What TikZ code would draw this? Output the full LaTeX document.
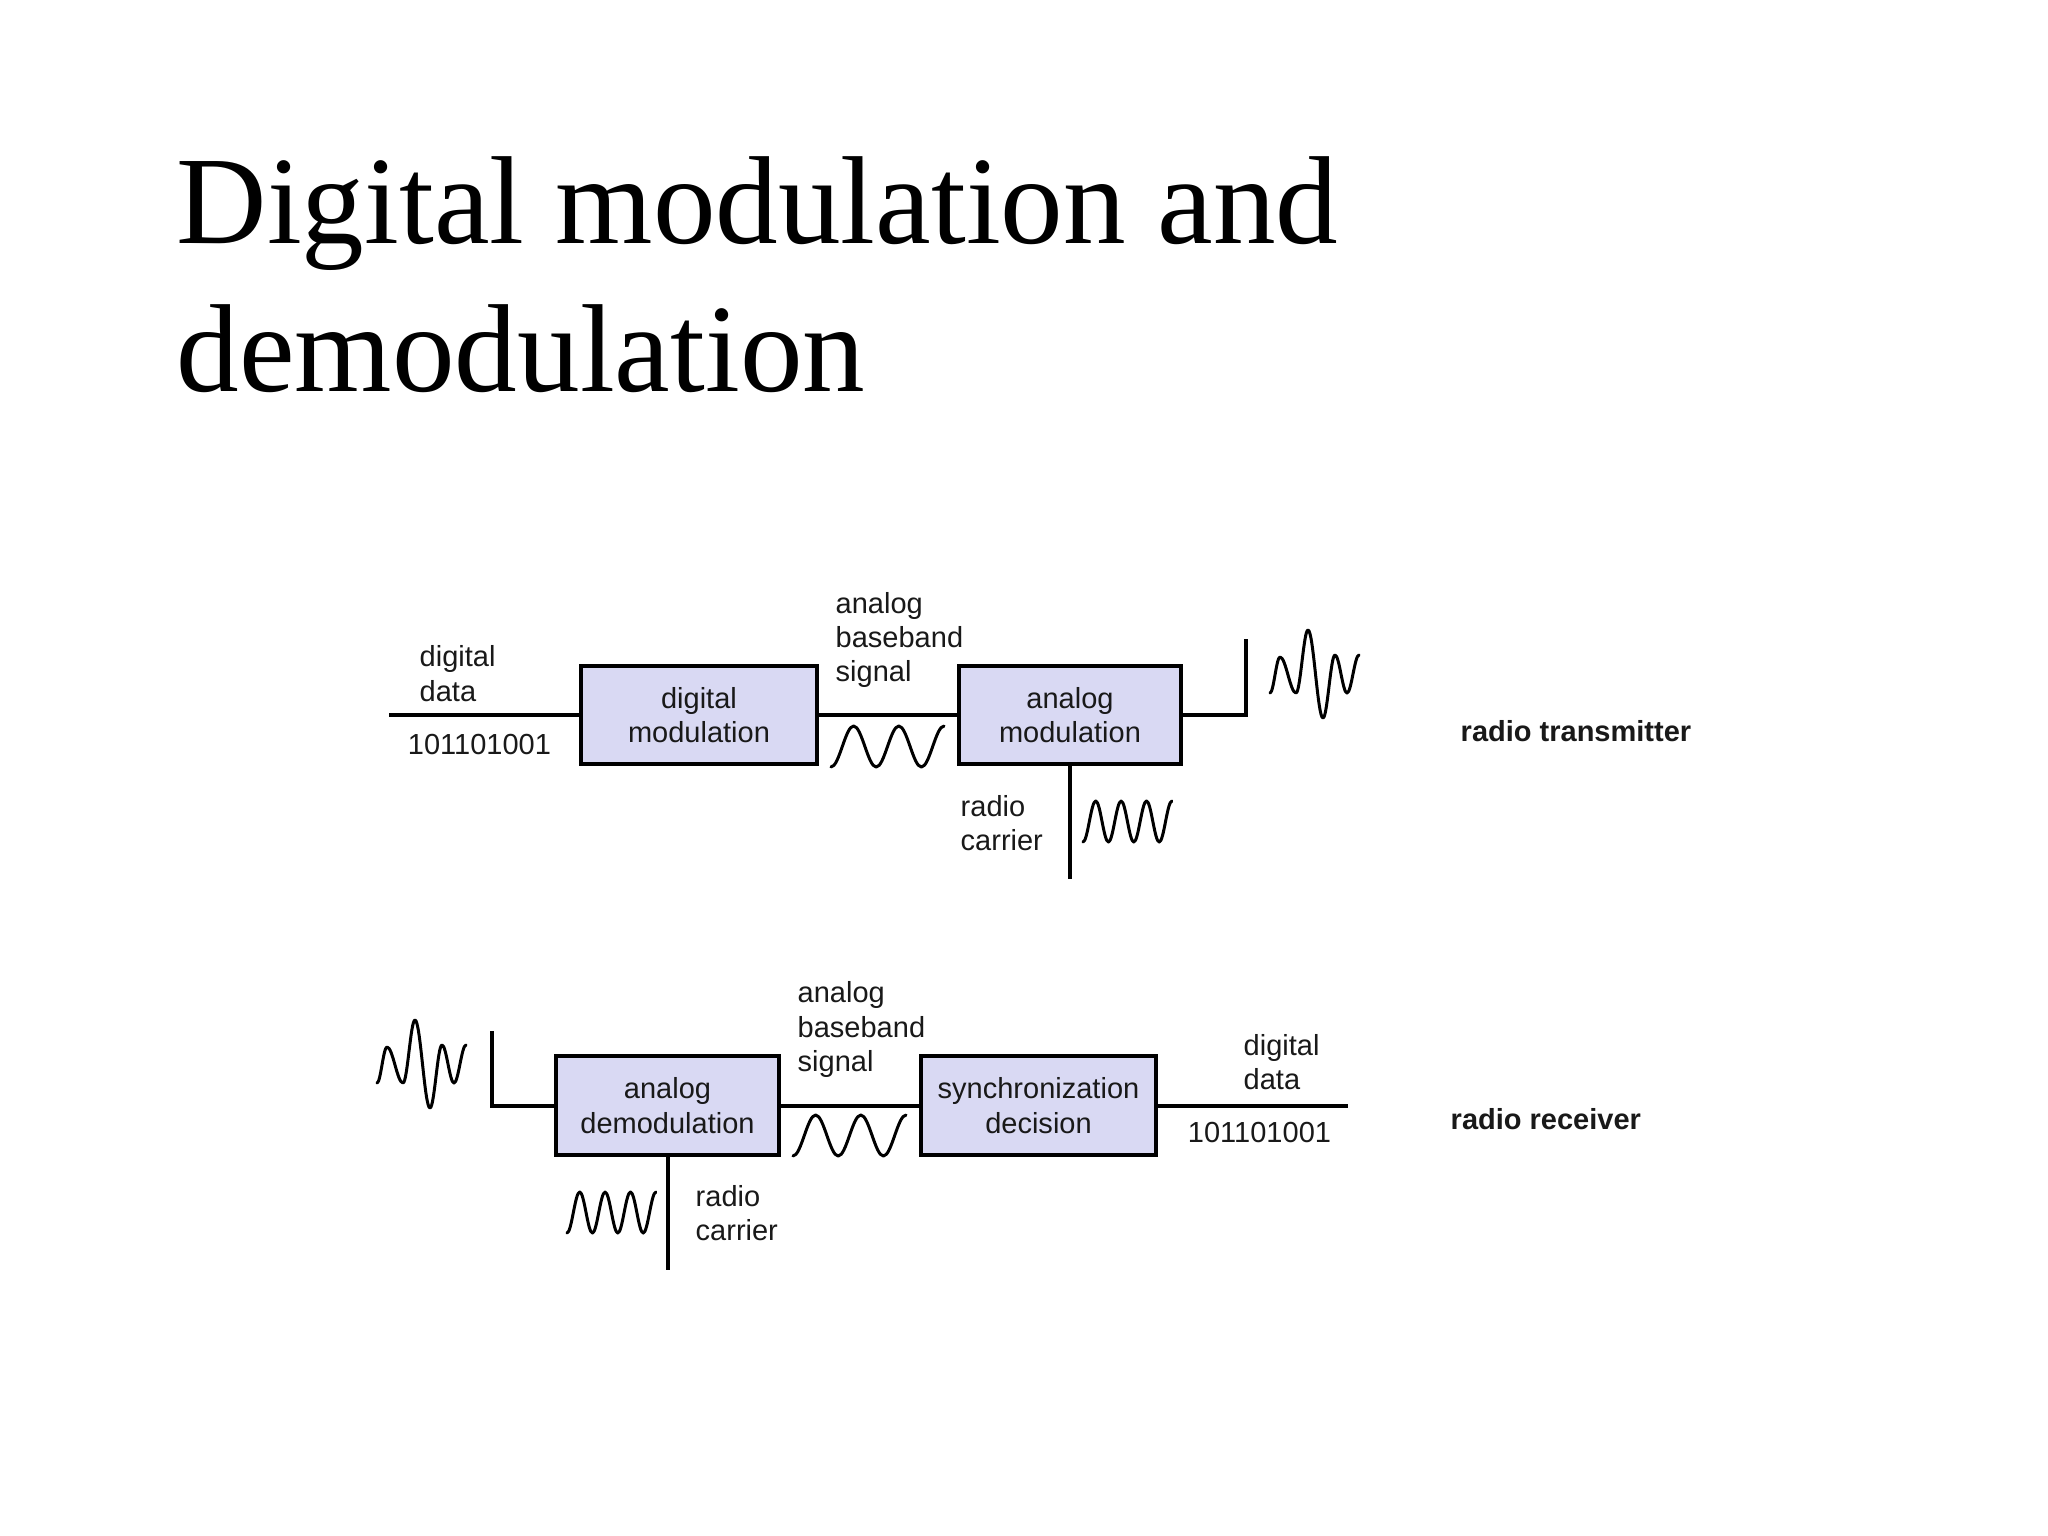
\documentclass[tikz,border=0pt]{standalone}
\usepackage{fontspec}
\setmainfont{Liberation Serif}
\setsansfont{Liberation Sans}
\definecolor{boxfill}{RGB}{217,217,243}
\definecolor{ink}{RGB}{25,25,25}
\newcommand{\lblfont}{\sffamily\fontsize{8.25}{9.8}\selectfont}
\tikzset{
  blockbox/.style={draw=black, line width=0.045cm, fill=boxfill, inner sep=0pt,
    align=center, font=\lblfont, text=ink},
  wire/.style={draw=black, line width=0.04cm},
  wave/.style={draw=black, line width=0.03cm, line cap=round, line join=round},
  lbl/.style={font=\lblfont, text=ink, align=left, inner sep=0pt},
  bold lbl/.style={font=\lblfont\bfseries, text=ink, inner sep=0pt},
  antwave/.pic={\draw[wave] (0,0) cos (5,-18) sin (10,-36) cos (18,-18) sin (26,0)
     cos (32,-31.5) sin (38,-63) cos (45.5,-19) sin (53,25) cos (59,-6.5) sin (65,-38)
     cos (71,-19) sin (77,0) cos (83,-19) sin (89,-38);},
  basewave/.pic={\draw[wave] (0,0) cos (11.3,-20.5) sin (22.6,-41) cos (33.9,-20.5) sin (45.2,0)
     cos (56.5,-20.5) sin (67.8,-41) cos (79.1,-20.5) sin (90.4,0)
     cos (101.7,-20.5) sin (113,-41);},
  carrwave/.pic={\draw[wave] (0,0) cos (6.35,-20.5) sin (12.7,-41) cos (19.05,-20.5) sin (25.4,0)
     cos (31.75,-20.5) sin (38.1,-41) cos (44.45,-20.5) sin (50.8,0)
     cos (57.15,-20.5) sin (63.5,-41) cos (69.85,-20.5) sin (76.2,0)
     cos (82.55,-20.5) sin (88.9,-41);}
}
\begin{document}
\begin{tikzpicture}[x=0.01cm, y=-0.01cm]
\useasboundingbox (0,0) rectangle (2048,1536);
\fill[white] (0,0) rectangle (2048,1536);

% title
\node[anchor=north west, align=left, inner sep=0pt, font=\fontsize{35.6}{42.2}\selectfont]
  (title) at (176,156) {Digital modulation and\\demodulation};

% ---------- transmitter ----------
\node[blockbox, minimum width=2.36cm, minimum height=0.98cm] (dmod) at (699,715) {digital\\modulation};
\node[blockbox, minimum width=2.22cm, minimum height=0.98cm] (amod) at (1070,715) {analog\\modulation};
\coordinate (txin) at (389,715);
\coordinate (txcorner) at (1246,715);
\coordinate (txant) at (1246,639);
\coordinate (txcarr) at (1070,879);
\draw[wire] (txin) -- (dmod.west);
\draw[wire] (dmod.east) -- (amod.west);
\draw[wire] (amod.east) -- (txcorner) -- (txant);
\draw[wire] (amod.south) -- (txcarr);

\node[lbl, anchor=west] (txdd) at (419,673.5) {digital\\data};
\node[lbl] (txbits) at (479.5,744) {101101001};
\node[lbl, anchor=west] (txbb) at (835,640) {analog\\baseband\\signal};
\node[lbl, anchor=west] (txrc) at (960,823) {radio\\carrier};
\node[bold lbl, anchor=west] (txname) at (1460,731) {radio transmitter};

\pic at (831,767) {basewave};
\pic at (1083,842) {carrwave};
\pic at (1270,693) {antwave};

% ---------- receiver ----------
\node[blockbox, minimum width=2.23cm, minimum height=0.99cm] (ademod) at (667.5,1105.5) {analog\\demodulation};
\node[blockbox, minimum width=2.35cm, minimum height=0.99cm] (sync) at (1038.5,1105.5) {synchronization\\decision};
\coordinate (rxant) at (492,1031);
\coordinate (rxcorner) at (492,1105.5);
\coordinate (rxout) at (1348,1105.5);
\coordinate (rxcarr) at (667.5,1270);
\draw[wire] (rxant) -- (rxcorner) -- (ademod.west);
\draw[wire] (ademod.east) -- (sync.west);
\draw[wire] (sync.east) -- (rxout);
\draw[wire] (ademod.south) -- (rxcarr);

\node[lbl, anchor=west] (rxbb) at (797,1029.5) {analog\\baseband\\signal};
\node[lbl, anchor=west] (rxdd) at (1243,1062) {digital\\data};
\node[lbl] (rxbits) at (1259.5,1132) {101101001};
\node[lbl, anchor=west] (rxrc) at (695,1213) {radio\\carrier};
\node[bold lbl, anchor=west] (rxname) at (1450,1119) {radio receiver};

\pic at (793,1156) {basewave};
\pic at (567,1233) {carrwave};
\pic at (377,1083) {antwave};
\end{tikzpicture}
\end{document}
